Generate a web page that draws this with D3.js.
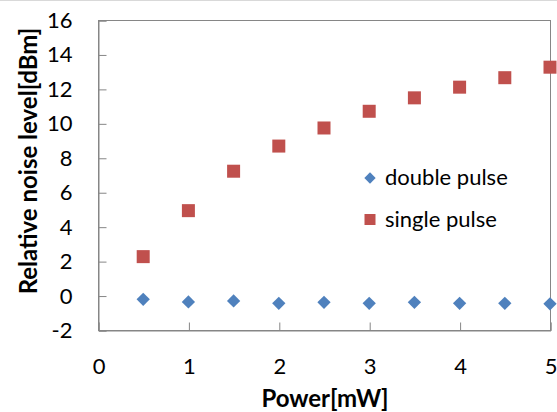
<!DOCTYPE html>
<html><head><meta charset="utf-8">
<script src="https://cdn.jsdelivr.net/npm/d3@7"></script>
<style>body{margin:0;background:#fff}svg{display:block;font-family:Lato,"Open Sans",sans-serif}</style>
</head><body><svg id="c" width="557" height="412"></svg>
<script>
const powers = [0.5,1,1.5,2,2.5,3,3.5,4,4.5,5];
const doublePulse = [-0.22,-0.37,-0.31,-0.45,-0.39,-0.45,-0.39,-0.45,-0.45,-0.48];
const singlePulse = [2.26,4.93,7.22,8.68,9.73,10.7,11.48,12.1,12.65,13.26];
const xTicks = [0,1,2,3,4,5];
const yTicks = [-2,0,2,4,6,8,10,12,14,16];
const seriesNames = ["double pulse","single pulse"];
const colors = ["#4F81BD","#C0504D"];

const svg = d3.select("#c");
const L=98,R=550,T=20,B=330;
const x = d3.scaleLinear().domain([0,5]).range([L,R]);
const y = d3.scaleLinear().domain([-2,16]).range([B,T]);
const axisCol="#868686";

svg.append("line").attr("x1",0).attr("x2",557).attr("y1",0.5).attr("y2",0.5).attr("stroke","#d9d9d9");

svg.append("rect").attr("x",L+0.5).attr("y",T+0.5).attr("width",R-L).attr("height",B-T)
  .attr("fill","none").attr("stroke",axisCol).attr("stroke-width",1);

const xa = svg.append("g").attr("transform",`translate(0.5,${B+0.5})`)
  .call(d3.axisBottom(x).tickValues(xTicks).tickSize(-8).tickPadding(28).tickFormat(d3.format("d")));
const ya = svg.append("g").attr("transform",`translate(${L+0.5},0.5)`)
  .call(d3.axisLeft(y).tickValues(yTicks).tickSize(-8).tickPadding(26).tickFormat(d=>d<0?"-"+Math.abs(d):d));
[xa,ya].forEach(a=>{
  a.select(".domain").attr("stroke",axisCol);
  a.selectAll(".tick line").attr("stroke",axisCol);
  a.selectAll("text").attr("font-family","Lato,sans-serif").attr("font-size",22).attr("fill","#000");
});

const diamond = s => d3.symbol().type(d3.symbolSquare).size(s*s)();
svg.append("g").selectAll("path").data(powers).join("path")
  .attr("d",diamond(9.4)).attr("fill",colors[0])
  .attr("transform",(d,i)=>`translate(${x(d)},${y(doublePulse[i])}) rotate(45)`);
svg.append("g").selectAll("rect").data(powers).join("rect")
  .attr("x",d=>x(d)-6.5).attr("y",(d,i)=>y(singlePulse[i])-6.5)
  .attr("width",13).attr("height",13).attr("fill",colors[1]);

const lg = svg.append("g");
lg.append("path").attr("d",diamond(8)).attr("fill",colors[0]).attr("transform","translate(370,178) rotate(45)");
lg.append("rect").attr("x",364.5).attr("y",214).attr("width",11).attr("height",11).attr("fill",colors[1]);
lg.append("text").attr("x",385).attr("y",185).attr("font-size",22).text(seriesNames[0]);
lg.append("text").attr("x",385).attr("y",227).attr("font-size",22).text(seriesNames[1]);

svg.append("text").attr("x",325).attr("y",407).attr("text-anchor","middle")
  .attr("font-size",24).attr("font-weight","bold").text("Power[mW]");
svg.append("text").attr("transform","translate(37,161) rotate(-90)").attr("text-anchor","middle")
  .attr("font-size",24).attr("font-weight","bold").text("Relative noise level[dBm]");
</script></body></html>
